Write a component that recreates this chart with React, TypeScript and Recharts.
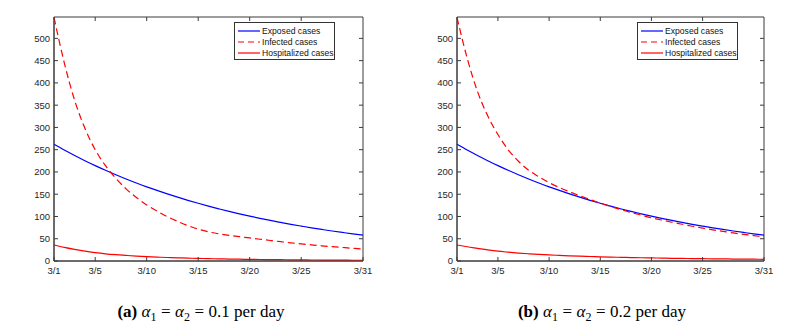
import React from 'react';
import { LineChart, Line, XAxis, YAxis, Legend, ReferenceArea, ReferenceLine } from 'recharts';

const days = [1, 2, 3, 4, 5, 6, 7, 8, 9, 10, 11, 12, 13, 14, 15, 16, 17, 18, 19, 20, 21, 22, 23, 24, 25, 26, 27, 28, 29, 30, 31];

const exposedCases = [262, 249.1, 236.9, 225.3, 214.3, 203.8, 193.8, 184.3, 175.2, 166.6, 158.5, 150.7, 143.3, 136.3, 129.6, 123.2, 117.2, 111.4, 106.0, 100.8, 95.8, 91.1, 86.7, 82.4, 78.4, 74.5, 70.9, 67.4, 64.1, 60.9, 57.9];

const infectedCasesA = [547, 445, 361, 298, 250, 214, 186, 162, 142.5, 126, 112, 99.5, 89, 79.5, 71.5, 65.5, 61, 57.5, 54.6, 51.8, 48.9, 46.1, 43.4, 40.8, 38.4, 36.2, 34.1, 32.1, 30.3, 28.6, 27];
const hospitalizedCasesA = [36, 30.5, 26, 22, 18.8, 16.2, 14.2, 12.5, 11, 9.8, 8.8, 7.9, 7.1, 6.4, 5.8, 5.3, 4.8, 4.4, 4.0, 3.7, 3.4, 3.1, 2.9, 2.7, 2.5, 2.3, 2.1, 2.0, 1.8, 1.7, 1.6];

const infectedCasesB = [547, 455, 381, 326, 284, 250, 224, 204, 189, 176, 165, 155.5, 146.5, 138, 130, 122.5, 115.5, 109, 103, 97, 92, 87, 82.5, 78, 74, 70, 66.5, 63, 60, 57, 54];
const hospitalizedCasesB = [36, 32, 28.5, 25, 22, 19.8, 17.8, 16.2, 14.8, 13.6, 12.6, 11.6, 10.8, 10.1, 9.4, 8.8, 8.3, 7.8, 7.3, 6.9, 6.5, 6.1, 5.8, 5.5, 5.2, 4.9, 4.7, 4.4, 4.2, 4.0, 3.8];

const dayTicks = [1, 5, 10, 15, 20, 25, 31];
const caseTicks = [0, 50, 100, 150, 200, 250, 300, 350, 400, 450, 500];

const seriesNames = ['Exposed cases', 'Infected cases', 'Hospitalized cases'];

const dayDomain = [1, 31];
const caseDomain = [0, 548];

const axisColor = '#3a3a3a';
const tickFont = { fontSize: 9.5, fill: '#262626', fontFamily: 'Liberation Sans, Arial, sans-serif' };

const legendItems = [
  { name: seriesNames[0], color: '#0000ff', dash: undefined },
  { name: seriesNames[1], color: '#ff0000', dash: '6 4' },
  { name: seriesNames[2], color: '#ff0000', dash: undefined },
];

const BoxLegend = () => (
  <div
    style={{
      width: 101,
      height: 38,
      border: '1px solid #333',
      background: '#fff',
      padding: '2px 0 0 3px',
      boxSizing: 'border-box',
      fontFamily: 'Liberation Sans, Arial, sans-serif',
      fontSize: 8.6,
      color: '#111',
    }}
  >
    {legendItems.map((item) => (
      <div key={item.name} style={{ display: 'flex', alignItems: 'center', height: 11.3 }}>
        <svg width={22} height={6} style={{ marginRight: 2 }}>
          <line x1={0} y1={3} x2={22} y2={3} stroke={item.color} strokeWidth={1.2} strokeDasharray={item.dash} />
        </svg>
        <span>{item.name}</span>
      </div>
    ))}
  </div>
);

interface PanelProps {
  infected: number[];
  hospitalized: number[];
  marginRight: number;
}

const Panel: React.FC<PanelProps> = ({ infected, hospitalized, marginRight }) => {
  const rows = days.map((day, i) => ({
    day,
    exposed: exposedCases[i],
    infected: infected[i],
    hospitalized: hospitalized[i],
  }));

  // inward tick marks on the top and right edges (matlab box style), about 4px long
  const topTickLen = (caseDomain[1] - caseDomain[0]) * 4 / 244;
  const rightTickLen = (dayDomain[1] - dayDomain[0]) * 4 / 308;

  return (
    <LineChart width={370} height={275} data={rows} margin={{ top: 9, right: marginRight, bottom: 0, left: 0 }}>
      <XAxis
        dataKey="day"
        type="number"
        domain={dayDomain}
        ticks={dayTicks}
        tickFormatter={(v) => `3/${v}`}
        height={22}
        tickSize={-4}
        tickMargin={10}
        tick={tickFont}
        stroke={axisColor}
      />
      <YAxis
        type="number"
        domain={caseDomain}
        ticks={caseTicks}
        width={46}
        tickSize={-4}
        tickMargin={8}
        tick={tickFont}
        stroke={axisColor}
      />
      <ReferenceArea x1={dayDomain[0]} x2={dayDomain[1]} y1={caseDomain[0]} y2={caseDomain[1]} fill="none" stroke={axisColor} strokeWidth={1} />
      {dayTicks.slice(1, -1).map((d) => (
        <ReferenceLine key={`t${d}`} segment={[{ x: d, y: caseDomain[1] }, { x: d, y: caseDomain[1] - topTickLen }]} stroke={axisColor} />
      ))}
      {caseTicks.slice(1).map((v) => (
        <ReferenceLine key={`r${v}`} segment={[{ x: dayDomain[1], y: v }, { x: dayDomain[1] - rightTickLen, y: v }]} stroke={axisColor} />
      ))}
      <Legend
        layout="vertical"
        align="center"
        verticalAlign="middle"
        content={<BoxLegend />}
        wrapperStyle={{ top: 14, left: 226, width: 101 }}
      />
      <Line type="monotone" dataKey="exposed" name={seriesNames[0]} stroke="#0000ff" strokeWidth={1.2} dot={false} isAnimationActive={false} />
      <Line type="monotone" dataKey="infected" name={seriesNames[1]} stroke="#ff0000" strokeWidth={1.2} strokeDasharray="7 4" dot={false} isAnimationActive={false} />
      <Line type="monotone" dataKey="hospitalized" name={seriesNames[2]} stroke="#ff0000" strokeWidth={1.2} dot={false} isAnimationActive={false} />
    </LineChart>
  );
};

const captionStyle: React.CSSProperties = {
  position: 'absolute',
  top: 294,
  width: 300,
  textAlign: 'center',
  fontFamily: 'Liberation Serif, Times New Roman, serif',
  fontSize: 17,
  lineHeight: '20px',
  color: '#000',
  whiteSpace: 'nowrap',
};

const subStyle: React.CSSProperties = { fontSize: 12, lineHeight: 0 };
const eqStyle: React.CSSProperties = { margin: '0 4.5px' };

const Caption = ({ label, rate }: { label: string; rate: string }) => (
  <>
    <b>({label})</b> <i>α</i><sub style={subStyle}>1</sub>
    <span style={eqStyle}>=</span>
    <i>α</i><sub style={subStyle}>2</sub>
    <span style={eqStyle}>=</span>
    {rate} per day
  </>
);

export default function App() {
  return (
    <div style={{ position: 'relative', width: 776, height: 313, background: '#fff' }}>
      <div style={{ position: 'absolute', left: 0, top: 0 }}>
        <Panel infected={infectedCasesA} hospitalized={hospitalizedCasesA} marginRight={15} />
      </div>
      <div style={{ position: 'absolute', left: 403, top: 0 }}>
        <Panel infected={infectedCasesB} hospitalized={hospitalizedCasesB} marginRight={17} />
      </div>
      <div style={{ ...captionStyle, left: 43 }}>
        <Caption label="a" rate="0.1" />
      </div>
      <div style={{ ...captionStyle, left: 444 }}>
        <Caption label="b" rate="0.2" />
      </div>
    </div>
  );
}
